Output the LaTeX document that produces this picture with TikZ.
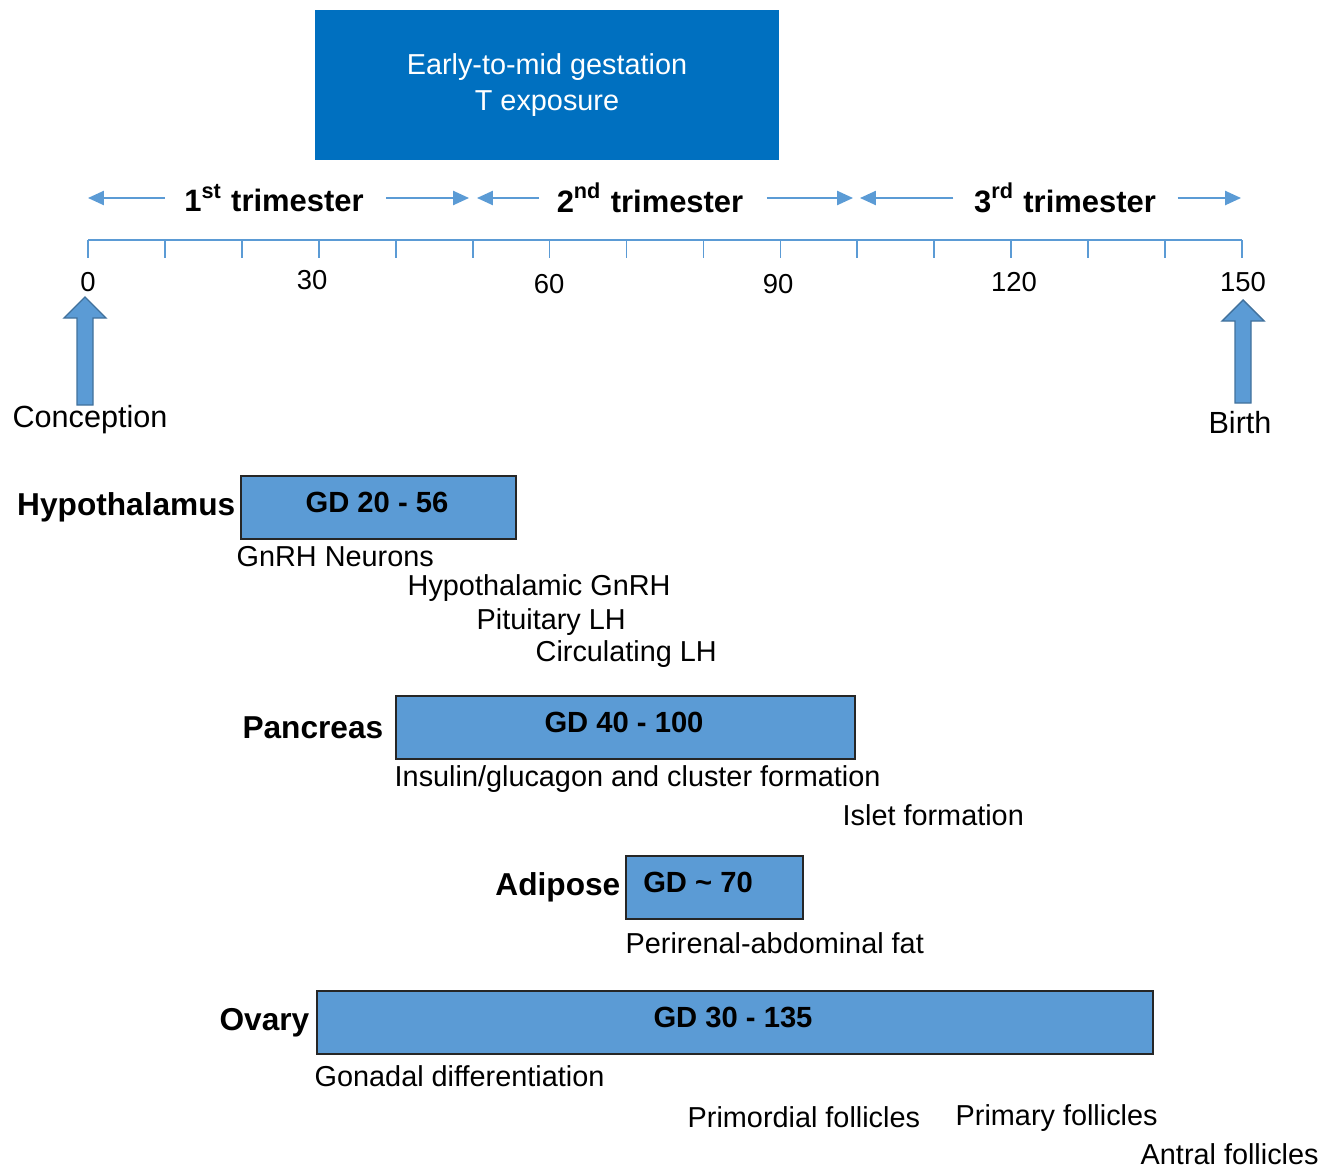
\documentclass[tikz,border=0pt]{standalone}
\usepackage{fontspec}
\setmainfont{Liberation Sans}
\usepackage{tikz}
\usetikzlibrary{arrows.meta, positioning}
\definecolor{topblue}{RGB}{0,112,192}
\definecolor{barblue}{RGB}{91,155,213}
\definecolor{arrowedge}{RGB}{65,113,156}

\begin{document}
\begin{tikzpicture}[x=0.01cm, y=-0.01cm,
      axisline/.style={draw=barblue, line width=0.5pt},
      triarrow/.style={draw=barblue, line width=0.5pt,
                       -{Triangle[length=4.5pt, width=4pt]}},
      trilbl/.style={inner sep=0pt, font=\fontsize{8.8}{11}\selectfont\bfseries},
      daylbl/.style={inner sep=0pt, font=\fontsize{7.8}{9}\selectfont},
      evlbl/.style={inner sep=0pt, font=\fontsize{8.7}{10}\selectfont},
      blockarrow/.style={fill=barblue, draw=arrowedge, line width=0.4pt},
      topbox/.style={fill=topblue, text=white, align=center,
                     minimum width=4.64cm, minimum height=1.50cm,
                     font=\fontsize{8.2}{10}\selectfont},
      gdbox/.style={fill=barblue, draw=black!85, line width=0.6pt,
                    anchor=north west, minimum height=0.63cm, inner sep=0pt},
      gdtxt/.style={inner sep=0pt, font=\fontsize{8.3}{10}\selectfont\bfseries},
      organ/.style={inner sep=0pt, font=\fontsize{9}{11}\selectfont\bfseries},
      stage/.style={inner sep=0pt, anchor=west, font=\fontsize{8.2}{10}\selectfont}]
    \useasboundingbox (0,0) rectangle (1337,1170);

    % Exposure window
    \node[topbox] (tbox) at (547,85) {Early-to-mid gestation\\T exposure};

    % Trimesters
    \node[trilbl] (t1) at (274,198) {1\textsuperscript{st} trimester};
    \node[trilbl] (t2) at (650,198) {2\textsuperscript{nd} trimester};
    \node[trilbl] (t3) at (1065,198) {3\textsuperscript{rd} trimester};
    \coordinate (b0) at (88,198);
    \coordinate (b1a) at (469,198);
    \coordinate (b1b) at (477,198);
    \coordinate (b2a) at (853,198);
    \coordinate (b2b) at (860,198);
    \coordinate (b3) at (1241,198);
    \draw[triarrow] ([xshift=-0.19cm]t1.west) -- (b0);
    \draw[triarrow] ([xshift=0.22cm]t1.east) -- (b1a);
    \draw[triarrow] ([xshift=-0.17cm]t2.west) -- (b1b);
    \draw[triarrow] ([xshift=0.23cm]t2.east) -- (b2a);
    \draw[triarrow] ([xshift=-0.20cm]t3.west) -- (b2b);
    \draw[triarrow] ([xshift=0.21cm]t3.east) -- (b3);

    % Gestational day axis
    \foreach \i in {0,...,15} {
      \coordinate (tk\i) at ({88+\i*76.93},240);
      \draw[axisline] (tk\i) -- ++(0,18);
    }
    \draw[axisline] (tk0) -- (tk15);
    \foreach \v/\xx/\yy in {0/88/282, 30/312/280, 60/549/284,
                           90/778/284, 120/1014/282, 150/1243/282}
      \node[daylbl] (day\v) at (\xx,\yy) {\v};

    % Conception and birth
    \coordinate (conTip) at (85,297);
    \filldraw[blockarrow] (conTip) -- ++(21,21) -- ++(-13,0) -- ++(0,87)
      -- ++(-16,0) -- ++(0,-87) -- ++(-13,0) -- cycle;
    \node[evlbl] (concep) at (90,420) {Conception};
    \coordinate (birTip) at (1243,300);
    \filldraw[blockarrow] (birTip) -- ++(21,21) -- ++(-13,0) -- ++(0,82)
      -- ++(-16,0) -- ++(0,-82) -- ++(-13,0) -- cycle;
    \node[evlbl] (birth) at (1240,423) {Birth};

    % Hypothalamus
    \node[gdbox, minimum width=2.75cm] (hypbox) at (240,475) {};
    \node[gdtxt] at (377,502) {GD 20 - 56};
    \node[organ, left=0.04cm of hypbox] (hyplbl) {Hypothalamus};
    \node[stage] (gnrhn) at (236,557) {GnRH Neurons};
    \node[stage] (hgnrh) at (407,588) {Hypothalamic GnRH};
    \node[stage] (plh) at (476,622) {Pituitary LH};
    \node[stage] (clh) at (535,654) {Circulating LH};

    % Pancreas
    \node[gdbox, minimum width=4.59cm] (panbox) at (395,695) {};
    \node[gdtxt] at (624,722) {GD 40 - 100};
    \node[organ, left=0.11cm of panbox] (panlbl) {Pancreas};
    \node[stage] (insul) at (394,779) {Insulin/glucagon and cluster formation};
    \node[stage] (islet) at (842,815) {Islet formation};

    % Adipose
    \node[gdbox, minimum width=1.77cm] (adibox) at (625,855) {};
    \node[gdtxt] at (698,882) {GD \textasciitilde{} 70};
    \node[organ, left=0.04cm of adibox] (adilbl) {Adipose};
    \node[stage] (peri) at (625,943) {Perirenal-abdominal fat};

    % Ovary
    \node[gdbox, minimum width=8.35cm] (ovabox) at (316,990) {};
    \node[gdtxt] at (733,1017) {GD 30 - 135};
    \node[organ, left=0.06cm of ovabox] (ovalbl) {Ovary};
    \node[stage] (gonad) at (314,1076) {Gonadal differentiation};
    \node[stage] (primo) at (687,1117) {Primordial follicles};
    \node[stage] (prima) at (955,1118) {Primary follicles};
    \node[stage] (antra) at (1140,1154) {Antral follicles};
  \end{tikzpicture}
\end{document}
